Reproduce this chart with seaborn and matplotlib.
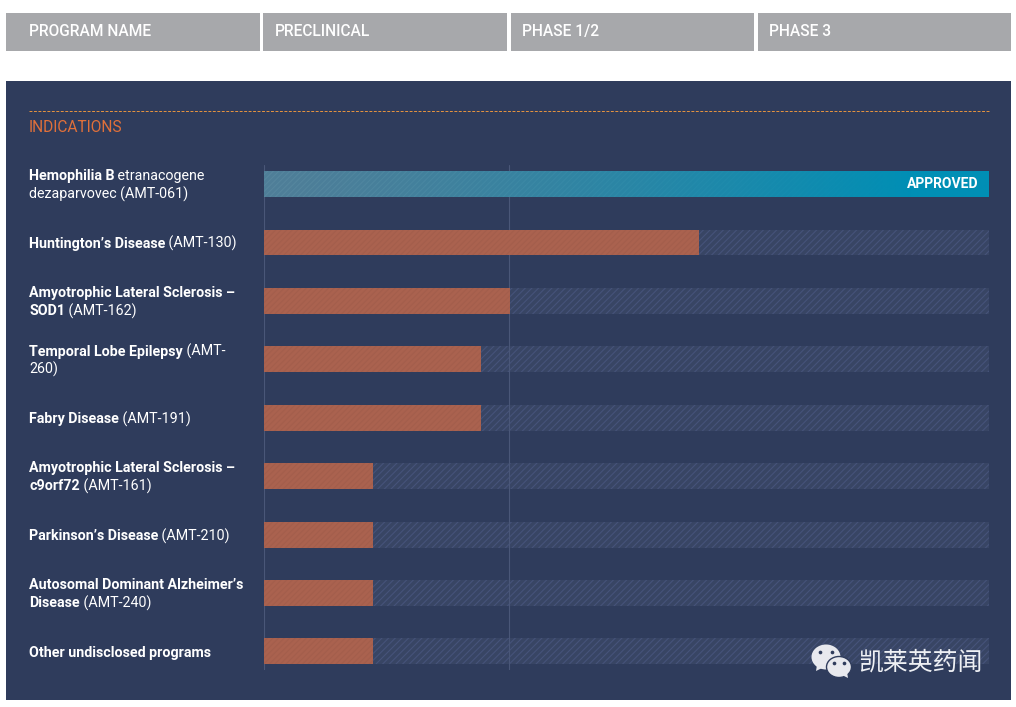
import numpy as np
import pandas as pd
import seaborn as sns
import matplotlib.pyplot as plt
from matplotlib.patches import Rectangle, Ellipse, Polygon
from matplotlib.colors import to_rgb

programs = ['AMT-061', 'AMT-130', 'AMT-162', 'AMT-260', 'AMT-191',
            'AMT-161', 'AMT-210', 'AMT-240', 'Other']
progress = [100, 60, 33.9, 29.9, 29.9, 15, 15, 15, 15]
status = ['approved'] + ['development'] * 8
track = [100] * 9

headers = ['PROGRAM NAME', 'PRECLINICAL', 'PHASE 1/2', 'PHASE 3']
labels = [
    [[('Hemophilia B', True), (' etranacogene', False)], [('dezaparvovec (AMT-061)', False)]],
    [[('Huntington’s Disease', True), (' (AMT-130)', False)]],
    [[('Amyotrophic Lateral Sclerosis –', True)], [('SOD1', True), (' (AMT-162)', False)]],
    [[('Temporal Lobe Epilepsy', True), (' (AMT-', False)], [('260)', False)]],
    [[('Fabry Disease', True), (' (AMT-191)', False)]],
    [[('Amyotrophic Lateral Sclerosis –', True)], [('c9orf72', True), (' (AMT-161)', False)]],
    [[('Parkinson’s Disease', True), (' (AMT-210)', False)]],
    [[('Autosomal Dominant Alzheimer’s', True)], [('Disease', True), (' (AMT-240)', False)]],
    [[('Other undisclosed programs', True)]],
]

NAVY = '#2f3c5c'
GREY = '#a7a8ab'
ORANGE = '#aa624f'
FONT = 'Roboto'

sns.set_theme(style='white')
plt.rcParams['font.family'] = [FONT, 'DejaVu Sans']
plt.rcParams['hatch.linewidth'] = 0.8

W, H = 1016, 707
fig = plt.figure(figsize=(W / 100, H / 100), dpi=100, facecolor='white')

# page layer, works in image pixels
page = fig.add_axes([0, 0, 1, 1])
page.set_xlim(0, W)
page.set_ylim(H, 0)
page.axis('off')

header_x = [(6, 260), (263, 507), (511, 754), (758, 1011)]
header_pad = [23, 12, 11, 11]
for (x0, x1), pad, name in zip(header_x, header_pad, headers):
    page.add_patch(Rectangle((x0, 13), x1 - x0, 38, color=GREY, lw=0))
    page.text(x0 + pad, 31.5, name, color='white', fontsize=11.2, va='center', fontweight='medium')

page.add_patch(Rectangle((6, 81), 1005, 619, color=NAVY, lw=0))
page.plot([29, 989], [111, 111], color='#e8943f', lw=0.7, dashes=(3, 1.6))
page.text(29, 128, 'INDICATIONS', color='#e0703a', fontsize=11.2, va='center')

# bars layer
bar_left, bar_right, bar_top, bar_bottom = 264, 989, 165, 670
ax = fig.add_axes([bar_left / W, 1 - bar_bottom / H,
                   (bar_right - bar_left) / W, (bar_bottom - bar_top) / H])
ax.patch.set_alpha(0)

df = pd.DataFrame({'program': programs, 'progress': progress, 'status': status, 'track': track})

sns.barplot(data=df, x='track', y='program', order=programs, color='#384564', saturation=1,
            width=0.444, hatch='/////', edgecolor='#46537a', linewidth=0, ax=ax)
n_track = len(ax.patches)

# phase dividers sit over the tracks but under the progress bars
ax.axvline(0, color='#4a5778', lw=0.8, zorder=1.5)
ax.axvline(33.8, color='#4a5778', lw=0.8, zorder=1.5)

sns.barplot(data=df, x='progress', y='program', order=programs, hue='status', dodge=False,
            palette={'approved': '#4f7e98', 'development': ORANGE}, saturation=1,
            width=0.444, hatch='//////', edgecolor='#a35e4c', linewidth=0, legend=False, ax=ax)

for p in ax.patches[:n_track]:
    p.set_zorder(1)
for p in ax.patches[n_track:]:
    p.set_zorder(2)
    if p.get_width() == 100:
        p.set_edgecolor('#57869e')
        p.set_linewidth(0)
        y0, y1 = p.get_y(), p.get_y() + p.get_height()
        # fade towards solid teal on the right
        grad = np.zeros((1, 256, 4))
        grad[..., :3] = to_rgb('#008fb5')
        grad[..., 3] = np.clip(np.linspace(0, 1.12, 256), 0, 1) ** 1.3
        ax.imshow(grad, extent=[0, 100, y1, y0], aspect='auto', zorder=3)

ax.set_xlim(0, 100)
ax.set_ylim(8.318, -0.327)
ax.axis('off')

page.set_zorder(0)
ax.set_zorder(1)
ax.text(98.5, 0, 'APPROVED', color='white', fontsize=10, fontweight='bold',
        va='center', ha='right', zorder=5)

# row labels, bold and regular runs side by side
fig.canvas.draw()
renderer = fig.canvas.get_renderer()
for i, lines in enumerate(labels):
    center = 185.2 + i * 58.45
    for j, runs in enumerate(lines):
        y = center + (j - (len(lines) - 1) / 2) * 18
        x = 29
        for txt, is_bold in runs:
            t = page.text(x, y, txt, color='white', fontsize=10.25, va='center',
                          fontweight='bold' if is_bold else 'normal')
            x += t.get_window_extent(renderer).width + (2 if txt.startswith(' ') else 0)

# wechat mark
logo = fig.add_axes([0, 0, 1, 1], zorder=2)
logo.set_xlim(0, W)
logo.set_ylim(H, 0)
logo.axis('off')
BUBBLE = '#e8e9ee'
logo.add_patch(Ellipse((826, 657), 29, 25, color=BUBBLE, lw=0))
logo.add_patch(Polygon([[817, 665], [816, 671], [824, 667]], color=BUBBLE, lw=0))
logo.add_patch(Ellipse((839, 667), 25, 21, fc=BUBBLE, ec=NAVY, lw=1))
logo.add_patch(Polygon([[842, 675], [848, 678], [847, 672]], color=BUBBLE, lw=0))
logo.scatter([820, 832, 834, 844], [652, 652, 663, 663], s=7, color=NAVY, lw=0)
logo.text(858, 662, '凯莱英药闻', color='#eef0f4', fontsize=17.9, va='center',
          family=['Noto Sans CJK SC', 'DejaVu Sans'])

fig.savefig('out.png', dpi=100, facecolor='white')
